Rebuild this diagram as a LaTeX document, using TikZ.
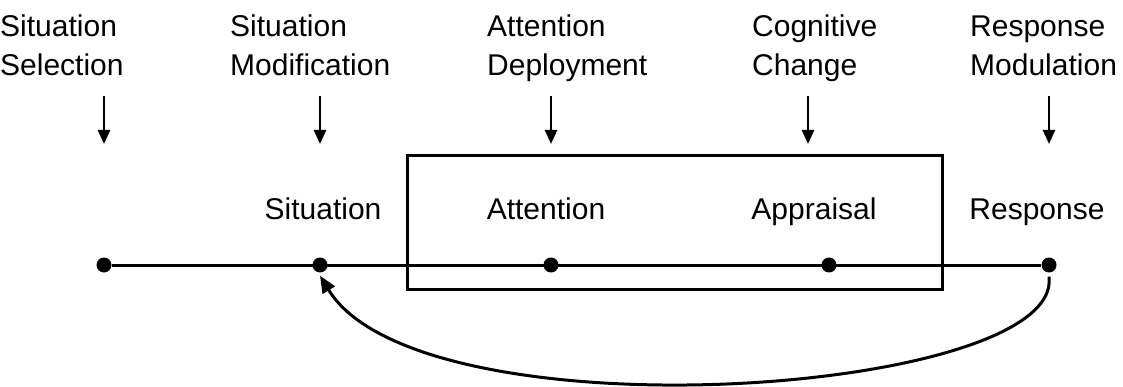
\documentclass[tikz,border=0pt]{standalone}
\usepackage{fontspec}
\setmainfont{Liberation Sans}
\usetikzlibrary{arrows.meta}
% strategies: label x / arrow x / name / text
\def\strategies{0/104/sel/{Situation\\Selection}, 230/320/mod/{Situation\\Modification}, 487/551/dep/{Attention\\Deployment}, 752/808/cog/{Cognitive\\Change}, 970/1049/rmod/{Response\\Modulation}}
% process: dot x / label x / name / text
\def\process{320/323/sit/Situation, 551/546/att/Attention, 829/814/app/Appraisal, 1049/1037/res/Response}
\tikzstyle{strategy}=[font=\fontsize{30}{39}\selectfont, align=left, anchor=base west, inner sep=0pt]
\tikzstyle{stage}=[font=\fontsize{30}{39}\selectfont, anchor=base, inner sep=0pt]
\tikzstyle{dot}=[circle, fill=black, minimum size=15pt, inner sep=0pt]
\tikzstyle{edge}=[draw, line width=3pt]
\tikzstyle{down}=[draw, line width=2.6pt, -{Triangle[length=14pt,width=12pt]}]
\tikzstyle{feedback}=[draw, line width=3pt, -{Triangle[length=17pt,width=14pt]}]

\begin{document}
\begin{tikzpicture}[x=1pt, y=-1pt]
  \useasboundingbox (0,0) rectangle (1123,387);

  % First the strategies and their arrows
  \foreach \lx/\ax/\name/\txt in \strategies {
    \node[strategy] (\name) at (\lx, 76) {\txt};
    \coordinate (\name-a) at (\ax, 96);
    \coordinate (\name-b) at (\ax, 144);
    \path[down] (\name-a) -- (\name-b);
  }

  % Then the process line with its stages
  \node[dot] (start) at (104, 265) {};
  \foreach \dx/\lx/\name/\txt in \process {
    \node[dot] (\name) at (\dx, 265) {};
    \node[stage] (\name-l) at (\lx, 219) {\txt};
  }
  \path[edge] (start) -- (res);

  % Box round attention and appraisal
  \coordinate (box-nw) at (407, 156);
  \coordinate (box-se) at (942, 289);
  \draw[line width=3pt] (box-nw) rectangle (box-se);

  % Feedback from response back to the situation
  \path[feedback] ([yshift=-4pt]res.south) .. controls (1064, 395) and (420, 440) .. ([yshift=-3pt]sit.south);
\end{tikzpicture}
\end{document}
